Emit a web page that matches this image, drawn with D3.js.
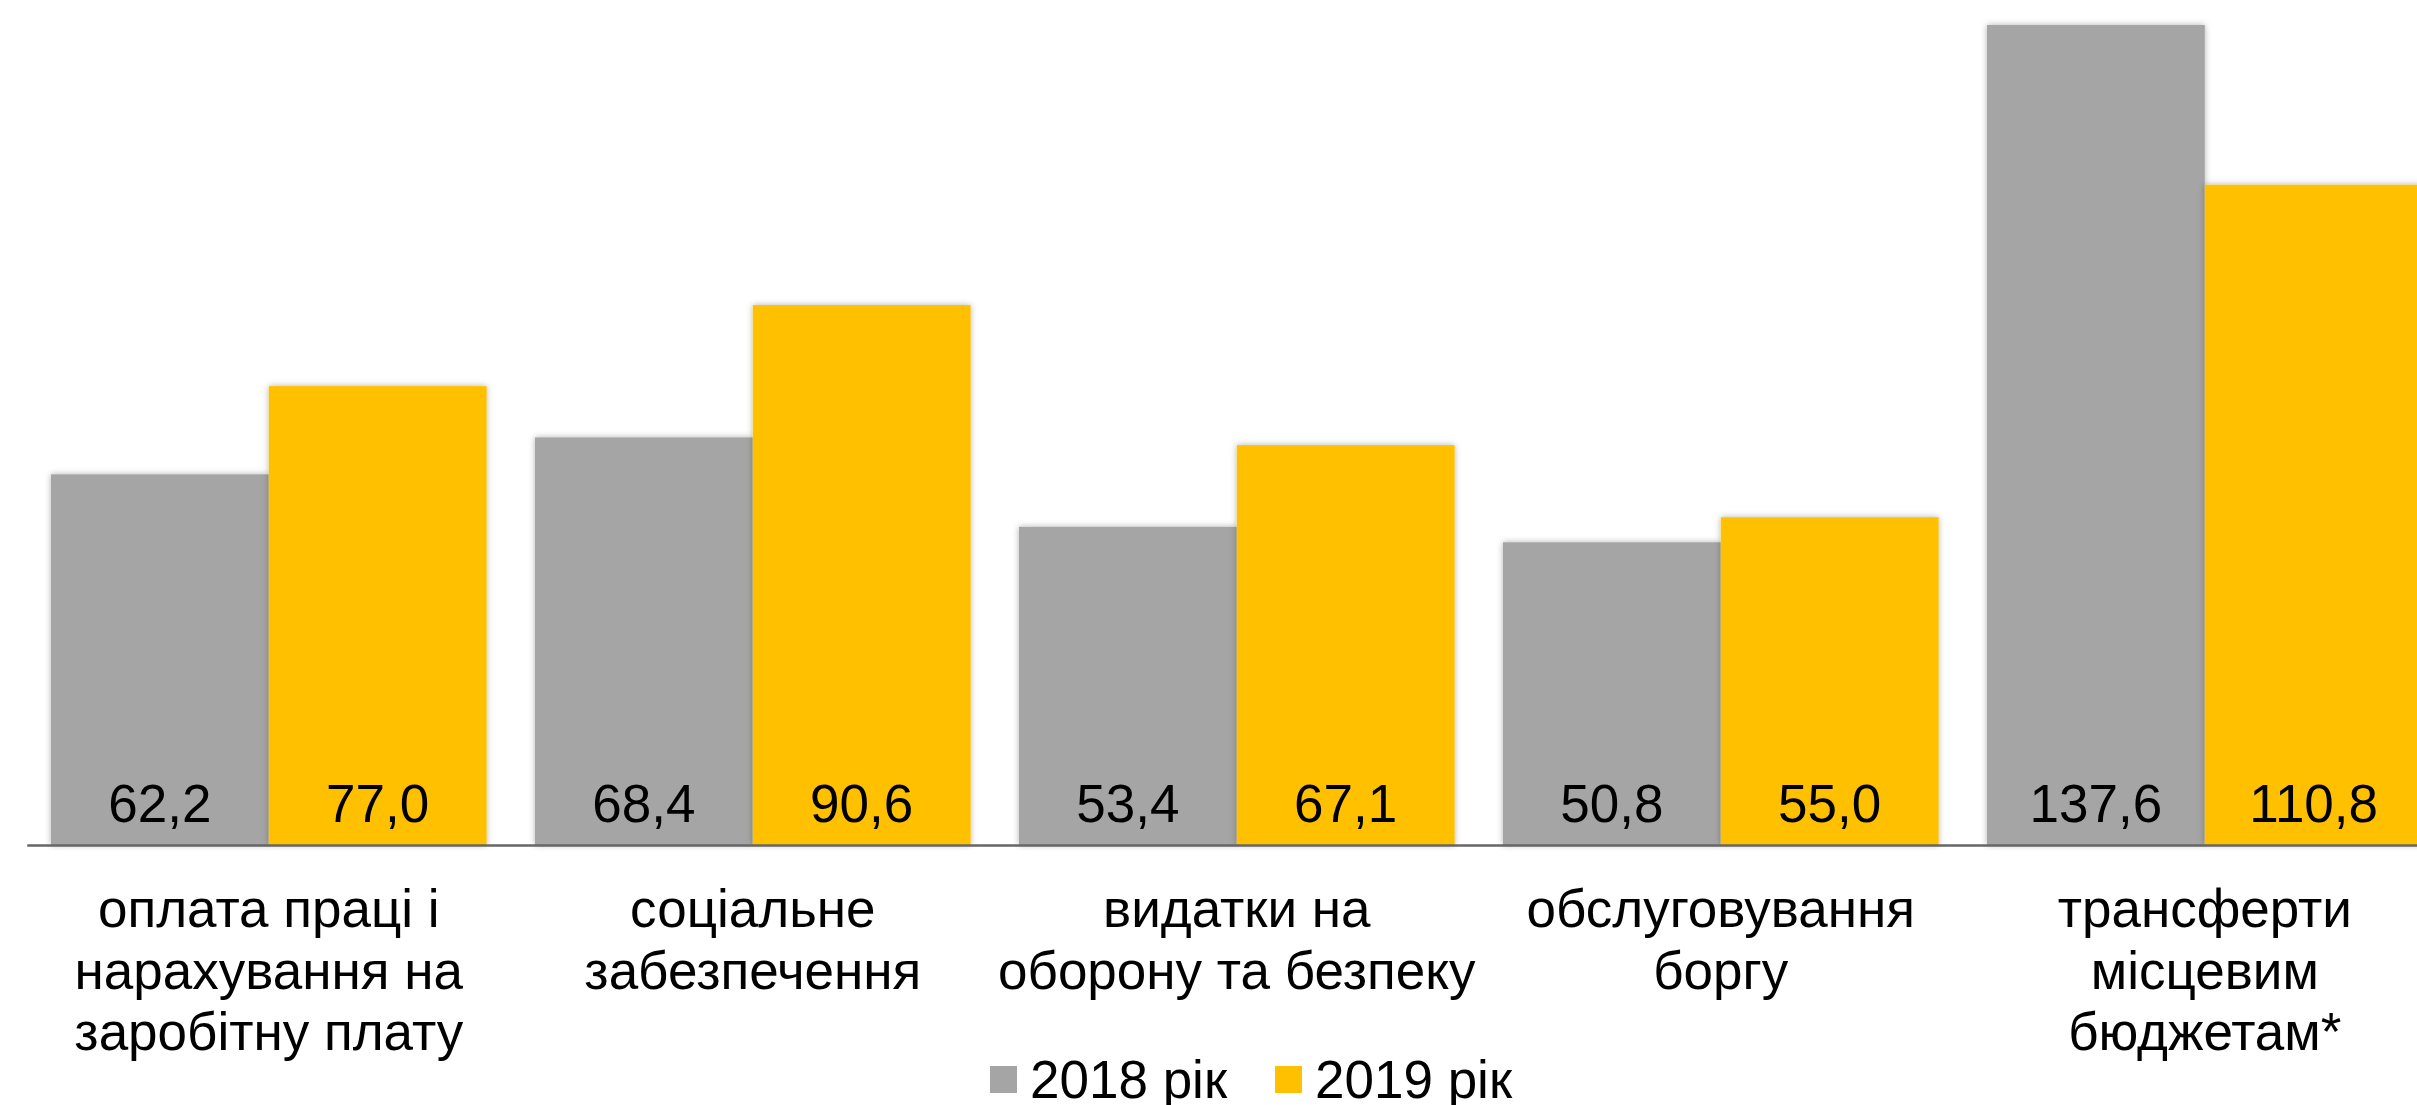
<!DOCTYPE html>
<html>
<head>
<meta charset="utf-8">
<script src="https://cdn.jsdelivr.net/npm/d3@7"></script>
<style>
  body { margin: 0; background: #fff; }
  text { font-family: "Liberation Sans", Arial, sans-serif; fill: #000; }
</style>
</head>
<body>
<div id="chart"></div>
<script>
var categories = [
  ['оплата праці і', 'нарахування на', 'заробітну плату'],
  ['соціальне', 'забезпечення'],
  ['видатки на', 'оборону та безпеку'],
  ['обслуговування', 'боргу'],
  ['трансферти', 'місцевим', 'бюджетам*']
]
var series = ['2018 рік', '2019 рік']
var values2018 = [62.2, 68.4, 53.4, 50.8, 137.6]
var values2019 = [77.0, 90.6, 67.1, 55.0, 110.8]
var colors = ['#a5a5a5', '#ffc000']

var width = 2417
var height = 1105
var baseline = 845
var fontSize = 53

var fmt = d3.formatLocale({decimal: ',', thousands: ' ', grouping: [3], currency: ['', '']}).format('.1f')

var svg = d3.select('#chart').append('svg')
  .attr('width', width)
  .attr('height', height)

var defs = svg.append('defs')
defs.append('filter')
    .attr('id', 'shadow')
    .attr('x', '-10%').attr('y', '-10%')
    .attr('width', '120%').attr('height', '120%')
  .append('feDropShadow')
    .attr('dx', 0).attr('dy', 0)
    .attr('stdDeviation', 3)
    .attr('flood-color', '#000')
    .attr('flood-opacity', 0.3)

var keys = categories.map((d, i) => i)
var x0 = d3.scaleBand()
  .domain(keys)
  .range([26.8, 2446.8])
  .paddingInner(0.1)
  .paddingOuter(0.05)

var x1 = d3.scaleBand()
  .domain(series)
  .range([0, x0.bandwidth()])

var y = d3.scaleLinear()
  .domain([0, 141.8])
  .range([baseline, 0])

var rows = keys.map(i => series.map((s, j) => ({
  key: i, s, j, v: j ? values2019[i] : values2018[i]
})))

var groups = svg.append('g').selectAll('g')
  .data(rows)
  .join('g')
  .attr('transform', (d, i) => `translate(${x0(i)},0)`)

groups.selectAll('rect')
  .data(d => d)
  .join('rect')
  .attr('x', d => x1(d.s))
  .attr('width', x1.bandwidth())
  .attr('y', d => y(d.v))
  .attr('height', d => y(0) - y(d.v))
  .attr('fill', d => colors[d.j])
  .attr('filter', 'url(#shadow)')

groups.selectAll('text.value')
  .data(d => d)
  .join('text')
  .attr('class', 'value')
  .attr('x', d => x1(d.s) + x1.bandwidth() / 2)
  .attr('y', y(0) - 23)
  .attr('text-anchor', 'middle')
  .style('font-size', fontSize + 'px')
  .text(d => fmt(d.v))

// axis line only
var axis = svg.append('g')
  .attr('transform', `translate(0,${baseline})`)
  .call(d3.axisBottom(x0).tickSize(0).tickFormat(''))
axis.select('.domain')
  .attr('stroke', '#666')
  .attr('stroke-width', 2.5)

// category labels
svg.append('g').selectAll('text')
  .data(categories)
  .join('text')
  .attr('x', (d, i) => x0(i) + x0.bandwidth() / 2)
  .attr('y', 927)
  .attr('text-anchor', 'middle')
  .style('font-size', fontSize + 'px')
  .selectAll('tspan')
  .data(d => d)
  .join('tspan')
  .attr('x', function() { return this.parentNode.getAttribute('x') })
  .attr('dy', (d, i) => i ? 61.5 : 0)
  .text(d => d)

// legend
var legend = svg.append('g').attr('transform', 'translate(990,0)')
var legendX = [0, 285]
var items = legend.selectAll('g')
  .data(series)
  .join('g')
  .attr('transform', (d, i) => `translate(${legendX[i]},0)`)

items.append('rect')
  .attr('y', 1066)
  .attr('width', 27)
  .attr('height', 27)
  .attr('fill', (d, i) => colors[i])

items.append('text')
  .attr('x', 40)
  .attr('y', 1098)
  .style('font-size', fontSize + 'px')
  .text(d => d)
</script>
</body>
</html>
